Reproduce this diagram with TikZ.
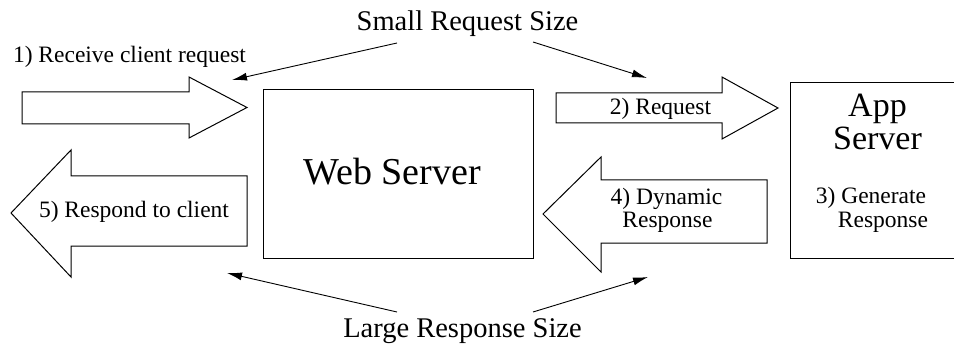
\documentclass[tikz,border=0pt]{standalone}
\usepackage{fontspec}
\setmainfont{Liberation Serif}
\usetikzlibrary{arrows.meta}
\begin{document}
\begin{tikzpicture}[x=1pt,y=-1pt,
  outline/.style={draw=black, line width=1pt, fill=white, line join=miter},
  lbl/.style={inner sep=0pt, anchor=base, font=\rmfamily\fontsize{23.5}{26}\selectfont},
  biglbl/.style={inner sep=0pt, anchor=base, font=\rmfamily\fontsize{28.5}{32}\selectfont},
  hugelbl/.style={inner sep=0pt, anchor=base, font=\rmfamily\fontsize{34}{38}\selectfont},
  pointer/.style={draw=black, line width=0.9pt, -{Latex[length=15pt,width=8pt]}}
]
\useasboundingbox (0,0) rectangle (954,350);

% Servers
\draw[outline] (263,90) rectangle (533,258);
\node[inner sep=0pt, anchor=base, font=\rmfamily\fontsize{38}{42}\selectfont] (web) at (392,185) {Web Server};

\begin{scope}
  \clip (780,70) rectangle (954,270);
  \draw[outline] (790,83) rectangle (970,258);
\end{scope}
\node[hugelbl] (appA) at (877.5,117) {App};
\node[hugelbl] (appB) at (877.5,150) {Server};
\node[lbl] (gen1) at (871,204) {3) Generate};
\node[lbl] (gen2) at (883,227) {Response};

% Block arrows
\draw[outline] (22,92) -- (189,92) -- (189,77) -- (247,107.5) -- (189,138) -- (189,124) -- (22,124) -- cycle;
\draw[outline] (556,93) -- (722,93) -- (722,77) -- (778,108) -- (722,139) -- (722,123) -- (556,123) -- cycle;
\draw[outline] (247,176) -- (71,176) -- (71,150) -- (11,213) -- (71,277) -- (71,246) -- (247,246) -- cycle;
\draw[outline] (767,180) -- (601,180) -- (601,157) -- (543,214) -- (601,272) -- (601,243) -- (767,243) -- cycle;

% Step labels
\node[lbl] (recv) at (129.5,63) {1) Receive client request};
\node[lbl] (req) at (660.5,115) {2) Request};
\node[lbl] (dyn1) at (666.5,205) {4) Dynamic};
\node[lbl] (dyn2) at (667.5,228) {Response};
\node[lbl] (resp) at (134,218) {5) Respond to client};

% Size annotations
\node[biglbl] (small) at (467.5,31) {Small Request Size};
\node[biglbl] (large) at (462.5,337) {Large Response Size};

\coordinate (smallL) at (397,43);
\coordinate (smallR) at (533,42);
\coordinate (largeL) at (397,312);
\coordinate (largeR) at (533,312);
\coordinate (inEnd) at (232,80);
\coordinate (reqEnd) at (647,78);
\coordinate (outEnd) at (227,273);
\coordinate (dynEnd) at (648,277);

\draw[pointer] (smallL) -- (inEnd);
\draw[pointer] (smallR) -- (reqEnd);
\draw[pointer] (largeL) -- (outEnd);
\draw[pointer] (largeR) -- (dynEnd);
\end{tikzpicture}
\end{document}
